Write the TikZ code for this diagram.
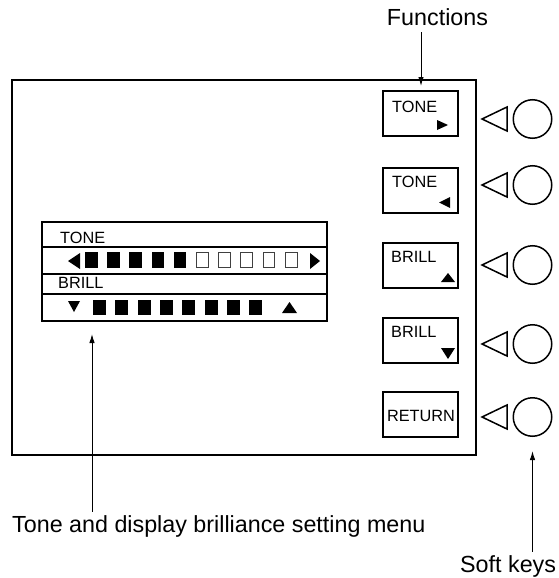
\documentclass[tikz,border=0pt]{standalone}
\usepackage{fontspec}
\setmainfont{Liberation Sans}
\usetikzlibrary{arrows.meta}
\begin{document}
\begin{tikzpicture}[x=1pt,y=-1pt,
  lbl/.style={inner sep=0pt, anchor=base west, font=\fontsize{23.3}{28}\selectfont},
  btxt/.style={inner sep=0pt, anchor=base west, font=\fontsize{16.3}{20}\selectfont},
  btn/.style={draw, line width=1.8pt, minimum width=75pt, minimum height=45pt, inner sep=0pt},
  key/.style={draw, circle, line width=1.5pt, minimum size=38.5pt, inner sep=0pt},
  ptr/.style={draw, line width=1.5pt, line join=miter},
  hsq/.style={draw=black!75, line width=0.8pt},
  conn/.style={line width=1pt, -{Latex[length=9pt,width=5.5pt]}},
  rule/.style={line width=1.6pt}
]
\useasboundingbox (0,0) rectangle (558,578);

% screen frame
\node[draw, line width=2.5pt, minimum width=464pt, minimum height=375pt, inner sep=0pt] (screen) at (244,267.5) {};

% function buttons
\node[btn] (b1) at (420.5,113.5) {};
\node[btn] (b2) at (420.5,190.5) {};
\node[btn] (b3) at (420.5,265.5) {};
\node[btn] (b4) at (420.5,340.5) {};
\node[btn] (b5) at (420.5,414.5) {};
\node[btxt] (t1) at (392,112) {TONE};
\node[btxt] (t2) at (392,187) {TONE};
\node[btxt] (t3) at (391,262) {BRILL};
\node[btxt] (t4) at (391,337) {BRILL};
\node[btxt, anchor=base] (t5) at (421,421) {RETURN};
\fill (437,120) -- (448,125) -- (437,130) -- cycle;
\fill (450,197) -- (439,202.5) -- (450,208) -- cycle;
\fill (441,282) -- (448,273) -- (455,282) -- cycle;
\fill (441,348) -- (455,348) -- (448,359) -- cycle;

% soft keys and pointers
\foreach \c [count=\i] in {119,185,265,344,417}{
  \node[key] (k\i) at (532.5,\c) {};
  \draw[ptr] (507,\c-12) -- (482,\c) -- (507,\c+12) -- cycle;
}

% setting menu panel
\node[draw, rule, minimum width=285pt, minimum height=99pt, inner sep=0pt] (panel) at (184.5,271.5) {};
\draw[rule] (41,247) -- (328,247);
\draw[rule] (41,274) -- (328,274);
\draw[rule] (41,294) -- (328,294);
\node[btxt] (mt) at (60,243) {TONE};
\node[btxt] (mb) at (58,288) {BRILL};
% tone row
\fill (80,253) -- (68,261) -- (80,269) -- cycle;
\foreach \i in {0,...,4}{ \fill (85+22.2*\i,252) rectangle ++(12.5,16); }
\foreach \i in {5,...,9}{ \draw[hsq] (85.4+22.2*\i,252.4) rectangle ++(11.7,15.2); }
\fill (310,253) -- (320,261) -- (310,269) -- cycle;
% brill row
\fill (68,301) -- (80,301) -- (74,312) -- cycle;
\foreach \i in {0,...,7}{ \fill (93+22.3*\i,300) rectangle ++(13,15); }
\fill (282,313) -- (297,313) -- (289.5,302) -- cycle;

% labels and connectors
\node[lbl, anchor=base] (fn) at (437.5,26) {Functions};
\coordinate (fntip) at (421,86);
\draw[conn, shorten <=6pt] (fn.south -| fntip) -- (fntip);

\node[lbl] (menu) at (12,532) {Tone and display brilliance setting menu};
\coordinate (mtip) at (92,334);
\draw[conn, shorten <=3pt] (menu.north -| mtip) -- (mtip);

\node[lbl] (sk) at (460,572) {Soft keys};
\coordinate (sktip) at (532.5,451);
\draw[conn, shorten <=3pt] (sk.north -| sktip) -- (sktip);
\end{tikzpicture}
\end{document}
